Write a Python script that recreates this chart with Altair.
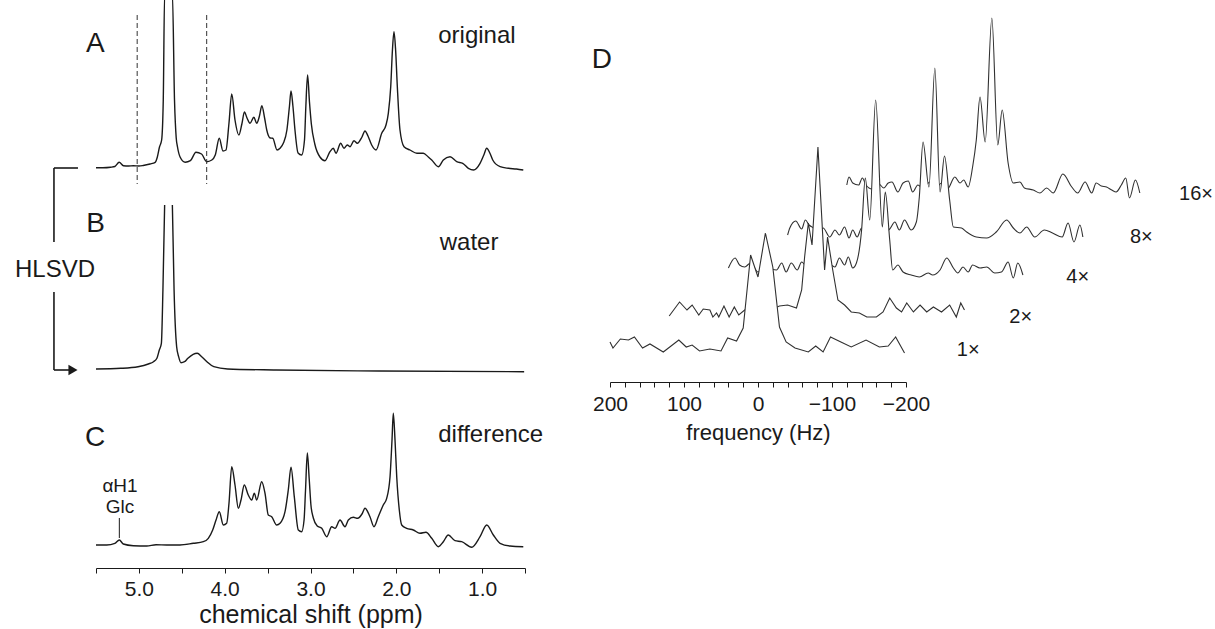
import altair as alt
import pandas as pd

FONT = "Liberation Sans"
INK = "#1a1a1a"
W, H = 1215, 629

# ---------------- Panel A : original spectrum (ppm, intensity) ----------------
A_PPM = [5.50, 5.42, 5.33, 5.28, 5.23, 5.18, 5.12, 5.065, 5.00, 4.95, 4.87, 4.81, 4.785, 4.76, 4.735, 4.716,
         4.70, 4.61, 4.585, 4.565, 4.55, 4.52, 4.46, 4.40, 4.335, 4.27, 4.21, 4.15, 4.11, 4.063, 4.02, 3.985,
         3.95, 3.918, 3.88, 3.835, 3.80, 3.77, 3.74, 3.705, 3.66, 3.627, 3.595, 3.567, 3.535, 3.51, 3.47, 3.44,
         3.39, 3.355, 3.317, 3.275, 3.245, 3.227, 3.205, 3.181, 3.145, 3.103, 3.07, 3.055, 3.034, 3.012, 2.99,
         2.95, 2.89, 2.831, 2.773, 2.734, 2.703, 2.648, 2.61, 2.571, 2.54, 2.493, 2.454, 2.40, 2.365, 2.33,
         2.287, 2.236, 2.17, 2.12, 2.093, 2.065, 2.045, 2.027, 2.008, 1.988, 1.957, 1.91, 1.84, 1.76, 1.685,
         1.627, 1.587, 1.51, 1.452, 1.374, 1.296, 1.226, 1.16, 1.10, 1.024, 0.98, 0.946, 0.91, 0.876, 0.79,
         0.693, 0.60, 0.52]
A_INT = [0.3, 0.3, 0.8, 1.5, 5.7, 2.3, 2.0, 2.3, 2.0, 2.5, 4.0, 5.7, 11.0, 21.0, 28.0, 68.0,
         175.0, 175.0, 68.0, 30.0, 21.0, 11.0, 5.7, 7.3, 15.7, 14.0, 6.3, 8.0, 13.0, 29.7, 17.0, 18.0,
         45.0, 74.0, 48.0, 33.0, 44.0, 56.0, 50.0, 44.7, 50.7, 44.7, 52.0, 62.3, 50.0, 38.0, 30.0, 29.7,
         18.0, 19.7, 24.7, 38.0, 62.0, 77.0, 62.0, 38.0, 15.0, 13.0, 28.0, 60.0, 93.0, 66.0, 44.0,
         24.0, 11.0, 7.3, 16.3, 19.7, 14.7, 24.7, 19.7, 23.0, 21.3, 27.3, 24.7, 31.0, 37.0, 32.0,
         23.0, 18.0, 34.7, 43.0, 54.7, 81.3, 118.0, 136.3, 118.0, 81.3, 38.0, 21.3, 18.0, 14.7, 14.7,
         11.0, 8.0, 1.3, 8.0, 11.3, 6.3, 4.7, -0.3, -2.0, 4.7, 13.0, 19.7, 15.0, 8.0, 1.3,
         -0.3, -1.0, -2.0]

# ---------------- Panel B : fitted water (HLSVD) ----------------
B_PPM = [5.50, 5.21, 5.01, 4.89, 4.83, 4.79, 4.762, 4.738, 4.72, 4.70, 4.61, 4.59, 4.56, 4.537, 4.51,
         4.468, 4.429, 4.368, 4.32, 4.268, 4.207, 4.127, 3.966, 3.40, 2.20, 0.51]
B_INT = [1.0, 1.7, 3.3, 6.0, 8.3, 11.7, 20.0, 26.7, 80.0, 165.0, 165.0, 80.0, 23.3, 13.3, 7.3,
         8.3, 11.7, 15.7, 16.7, 13.3, 8.3, 3.3, 1.0, 0.0, -1.0, -1.7]

# ---------------- Panel C : difference ----------------
C_PPM = [5.50, 5.375, 5.28, 5.228, 5.182, 5.065, 4.909, 4.80, 4.676, 4.521, 4.366, 4.249, 4.191, 4.14,
         4.101, 4.063, 4.016, 3.977, 3.95, 3.918, 3.88, 3.841, 3.81, 3.772, 3.725, 3.685, 3.655, 3.627,
         3.569, 3.53, 3.492, 3.452, 3.394, 3.355, 3.297, 3.259, 3.227, 3.189, 3.142, 3.103, 3.075, 3.058,
         3.037, 3.015, 2.995, 2.967, 2.921, 2.869, 2.811, 2.753, 2.714, 2.656, 2.598, 2.559, 2.501, 2.45,
         2.40, 2.365, 2.307, 2.26, 2.21, 2.152, 2.112, 2.073, 2.05, 2.035, 2.015, 1.995, 1.965, 1.937,
         1.879, 1.802, 1.724, 1.654, 1.587, 1.51, 1.452, 1.394, 1.316, 1.238, 1.121, 1.024, 0.946, 0.869,
         0.791, 0.674, 0.52]
C_INT = [0.0, 0.0, 1.7, 5.0, 1.0, -0.7, -1.0, 0.3, 0.0, 0.0, 1.7, 3.3, 6.7, 15.0,
         25.0, 33.3, 20.0, 21.7, 41.7, 78.3, 60.0, 36.7, 45.0, 60.0, 50.0, 45.0, 51.7, 45.0,
         63.3, 51.7, 30.0, 28.3, 20.0, 21.7, 33.3, 55.0, 77.7, 48.3, 15.0, 13.3, 25.0, 55.0,
         92.0, 66.0, 40.0, 27.0, 19.0, 16.7, 8.3, 18.3, 16.7, 25.0, 18.3, 25.0, 27.7, 26.7,
         31.0, 36.7, 28.3, 18.3, 28.3, 40.0, 46.7, 68.3, 105.0, 131.7, 105.0, 68.3, 35.0, 20.0,
         16.7, 15.0, 11.7, 12.7, 6.7, -1.7, 3.3, 10.0, 4.3, 3.3, -2.3, 8.3, 20.0, 10.0,
         1.7, -1.0, -1.7]

# ---------------- Panel D : averaged spectra (Hz, intensity) ----------------
D_SCANS = ["1×", "2×", "4×", "8×", "16×"]
D1_HZ = [200, 196, 186, 175, 167, 156, 146, 128, 107, 97, 89, 79, 65, 50, 41, 29, 20, 10, 0, -10,
         -20, -29, -38, -50, -68, -78, -88, -98, -112, -126, -146, -164, -176, -186, -198]
D1_INT = [5, -1, 8, 7, 10, -1, 3, -5, 7, 0, 2, -4, -2, -4, 9, 6, 19, 92, 70, 114,
          80, 20, 5, -1, -5, 1, -5, 10, 5, 0, 7, 0, 1, 10, -6]
D2_HZ = [200, 186, 176, 169, 160, 154, 145, 141, 136, 133, 126, 119, 112, 106, 98, 90, 80, 70, 60, 51,
         40, 28, 21, 17, 12, 7, -1, -10, -14, -21, -28, -37, -46, -57, -67, -80, -89, -98, -107, -114,
         -121, -130, -139, -148, -157, -168, -179, -188, -194, -199]
D2_INT = [-8, 6, -2, 3, -7, -1, -2, -9, -5, -9, 2, -9, 1, -7, -2, 1, -3, 2, -1, 2,
          3, 0, 18, 51, 85, 63, 161, 38, 71, 38, 8, 3, -4, -5, -9, -9, -4, 10, 0, -4,
          5, -4, 3, -4, 1, -4, 3, -9, 5, -2]
D4_HZ = [200, 191, 185, 178, 170, 160, 150, 141, 135, 128, 122, 115, 107, 101, 92, 82, 72, 62, 56, 50,
         43, 38, 32, 27, 20, 15, 9, 1, -8, -12, -18, -22, -29, -36, -47, -58, -70, -76, -86, -95,
         -104, -110, -117, -124, -130, -140, -149, -160, -169, -178, -185, -191, -198]
D4_INT = [1, 11, 4, 2, 6, -3, 4, 0, -1, 6, -3, 6, -1, 7, 0, 5, -2, 4, 2, 11,
          4, 12, 1, 6, 39, 91, 49, 169, 42, 77, 29, -1, 4, -3, -6, -8, -4, -6, -1, 11,
          1, -4, 2, -3, 4, 1, 2, -4, -3, 7, -9, 6, -6]
D8_HZ = [200, 197, 189, 181, 176, 171, 165, 158, 152, 143, 136, 130, 123, 117, 112, 106, 100, 90, 80, 70,
         62, 55, 49, 42, 33, 26, 22, 17, 9, 1, -6, -12, -19, -24, -35, -42, -55, -69, -82, -96,
         -105, -114, -123, -134, -147, -158, -171, -179, -187, -195, -199]
D8_INT = [-5, 2, 9, 1, 10, 5, 2, -3, 2, -7, 0, -5, 3, -8, 0, -7, 2, -4, 3, -2,
          1, 8, 0, 10, 0, 8, 33, 88, 43, 162, 38, 74, 30, 3, 2, -2, -7, -8, -2, 10,
          2, -3, 3, -7, 0, -3, -7, 7, -12, 5, -7]
D16_HZ = [200, 197, 192, 184, 179, 174, 166, 158, 150, 144, 139, 131, 124, 117, 111, 104, 96, 88, 80, 72,
          64, 54, 47, 42, 36, 30, 25, 20, 13, 4, -4, -10, -18, -25, -34, -40, -52, -61, -70, -79,
          -92, -104, -112, -122, -131, -137, -144, -151, -158, -164, -171, -177, -182, -190, -196]
D16_INT = [6, 14, 8, 6, 13, 6, 2, 8, 3, 8, 9, -1, 8, 10, -1, 6, 2, 9, 3, 8,
           2, 14, 8, 11, 4, 24, 51, 94, 49, 173, 46, 81, 28, 8, 9, 3, 1, -2, 3, -2,
           17, 4, -2, 9, -2, 8, 5, 4, 1, -1, 6, 13, -7, 11, -2]
D_LABEL_HZ = [-284, -275, -272, -278, -272]
D_LABEL_INT = [-9, -15, -14, -13, -9]

# ---------------- axes ticks ----------------
PPM_TICKS = [5.5, 5.0, 4.5, 4.0, 3.5, 3.0, 2.5, 2.0, 1.5, 1.0, 0.5]
HZ_TICKS = list(range(200, -201, -20))

# ---------------- annotations ----------------
DASH_PPM = [5.02, 4.21]
DASH_TOP, DASH_BOTTOM = 153, -16
BR_X1 = [5.99, 5.99, 5.99, 5.99]
BR_X2 = [5.71, 5.99, 5.99, 5.80]
BR_Y1 = [202, 202, 78, 0]
BR_Y2 = [202, 128, 0, 0]

# layout constants (scale domains -> pixel ranges)
X_PPM = ([5.5, 0.5], [96, 525])
Y_A = ([0, 168], [168, 0])
Y_B = ([0, 165], [370, 205])
Y_C = ([0, 132], [545, 413])
X_D = ([200, -200], [610, 906])
Y_D = ([0, 100], [347, 247])
D_SHIFT_HZ = 80
D_STEP = 39
D_FILL_DEPTH = 15


def sc(domain, rng):
    return alt.Scale(domain=domain, range=rng, nice=False, zero=False)


def enc(xs, ys, xf="x", yf="y", xaxis=None):
    return dict(x=alt.X(f"{xf}:Q", scale=sc(*xs), axis=xaxis),
                y=alt.Y(f"{yf}:Q", scale=sc(*ys), axis=None))


def texts(labels, xs, ys, sizes, xsc, ysc, align):
    df = pd.DataFrame({"x": xs, "y": ys, "t": labels, "fs": sizes})
    return alt.Chart(df).mark_text(font=FONT, color=INK, align=align, baseline="alphabetic").encode(
        **enc(xsc, ysc), text="t:N", size=alt.Size("fs:Q", scale=None, legend=None))


layers = []

# Panel A
dfA = pd.DataFrame({"x": A_PPM, "y": A_INT})
layers.append(alt.Chart(dfA).mark_line(color=INK, strokeWidth=1.4, interpolate="monotone", clip=True)
              .encode(**enc(X_PPM, Y_A)))
dfDash = pd.DataFrame({"x": DASH_PPM, "y": [DASH_TOP] * len(DASH_PPM), "y2": [DASH_BOTTOM] * len(DASH_PPM)})
layers.append(alt.Chart(dfDash).mark_rule(color="#333333", strokeWidth=1, strokeDash=[5, 3])
              .encode(**enc(X_PPM, Y_A), y2="y2:Q"))
layers.append(texts(["A", "original"], [5.617, 1.511], [116.3, 124.7], [28, 24], X_PPM, Y_A, "left"))

# Panel B
dfB = pd.DataFrame({"x": B_PPM, "y": B_INT})
layers.append(alt.Chart(dfB).transform_calculate(seg="datum.x > 4.655 ? 0 : 1")
              .mark_line(color=INK, strokeWidth=1.4, interpolate="monotone")
              .encode(**enc(X_PPM, Y_B), detail="seg:N"))
dfBr = pd.DataFrame({"x": BR_X1, "x2": BR_X2, "y": BR_Y1, "y2": BR_Y2})
layers.append(alt.Chart(dfBr).mark_rule(color=INK, strokeWidth=1.6)
              .encode(**enc(X_PPM, Y_B), x2="x2:Q", y2="y2:Q"))
dfArrow = pd.DataFrame({"x": [5.768], "y": [0]})
layers.append(alt.Chart(dfArrow).mark_point(shape="triangle-right", filled=True, size=110, color=INK, opacity=1)
              .encode(**enc(X_PPM, Y_B)))
layers.append(texts(["B", "water"], [5.613, 1.494], [138.3, 120.0], [28, 24], X_PPM, Y_B, "left"))
layers.append(texts(["HLSVD"], [5.978], [92.7], [24], X_PPM, Y_B, "center"))

# Panel C (with ppm axis)
ppm_axis = alt.Axis(values=PPM_TICKS, orient="bottom", offset=-61, grid=False,
                    labelExpr="datum.value % 1 === 0 ? format(datum.value, '.1f') : ''",
                    tickSize=5, tickColor=INK, tickWidth=1, domainColor=INK, domainWidth=1,
                    labelFont=FONT, labelFontSize=21, labelColor=INK, labelPadding=5,
                    labelFlush=False, labelOverlap=False,
                    title="chemical shift (ppm)", titleFont=FONT, titleFontSize=25,
                    titleFontWeight="normal", titleColor=INK, titlePadding=3)
dfC = pd.DataFrame({"x": C_PPM, "y": C_INT})
layers.append(alt.Chart(dfC).mark_line(color=INK, strokeWidth=1.4, interpolate="monotone")
              .encode(**enc(X_PPM, Y_C, xaxis=ppm_axis)))
dfGlc = pd.DataFrame({"x": [5.228], "y": [27], "y2": [7]})
layers.append(alt.Chart(dfGlc).mark_rule(color=INK, strokeWidth=1).encode(**enc(X_PPM, Y_C), y2="y2:Q"))
layers.append(texts(["C", "difference"], [5.628, 1.511], [99.3, 103.3], [28, 24], X_PPM, Y_C, "left"))
layers.append(texts(["αH1", "Glc"], [5.22, 5.22], [53.3, 31.7], [19, 19], X_PPM, Y_C, "center"))

# Panel D : stacked spectra with hidden-line removal (back to front)
rows = []
for k, (hz, it) in enumerate([(D1_HZ, D1_INT), (D2_HZ, D2_INT), (D4_HZ, D4_INT),
                              (D8_HZ, D8_INT), (D16_HZ, D16_INT)]):
    rows += [{"hz": h, "i": v, "k": k} for h, v in zip(hz, it)]
dfD = pd.DataFrame(rows)

hz_axis = alt.Axis(values=HZ_TICKS, orient="bottom", offset=-247, grid=False,
                   labelExpr="datum.value % 100 === 0 ? format(datum.value, 'd') : ''",
                   tickSize=5, tickColor=INK, tickWidth=1, domainColor=INK, domainWidth=1,
                   labelFont=FONT, labelFontSize=21, labelColor=INK, labelPadding=6,
                   labelFlush=False, labelOverlap=False,
                   title="frequency (Hz)", titleFont=FONT, titleFontSize=22,
                   titleFontWeight="normal", titleColor=INK, titlePadding=8)

for k in [4, 3, 2, 1, 0]:
    interp = "linear" if k < 2 else "monotone"
    base = alt.Chart(dfD).transform_filter(f"datum.k == {k}").transform_calculate(
        xp=f"datum.hz - {D_SHIFT_HZ} * {k}",
        yp=f"datum.i + {D_STEP} * {k}",
        yb=f"{D_STEP} * {k} - {D_FILL_DEPTH}")
    layers.append(base.mark_area(color="white", interpolate=interp)
                  .encode(**enc(X_D, Y_D, "xp", "yp"), y2="yb:Q"))
    layers.append(base.mark_line(color="#303030", strokeWidth=1.1, interpolate=interp)
                  .encode(**enc(X_D, Y_D, "xp", "yp", xaxis=hz_axis if k == 0 else None)))

dfDL = pd.DataFrame({"t": D_SCANS, "hz": D_LABEL_HZ, "i": D_LABEL_INT, "k": list(range(len(D_SCANS)))})
layers.append(alt.Chart(dfDL).transform_calculate(
    xp=f"datum.hz - {D_SHIFT_HZ} * datum.k", yp=f"datum.i + {D_STEP} * datum.k")
    .mark_text(font=FONT, color=INK, align="center", baseline="alphabetic", fontSize=20)
    .encode(**enc(X_D, Y_D, "xp", "yp"), text="t:N"))
layers.append(texts(["D"], [224.7], [278.7], [28], X_D, Y_D, "left"))

chart = (alt.layer(*layers)
         .resolve_scale(x="independent", y="independent")
         .properties(width=W, height=H, padding=0, background="white",
                     autosize=alt.AutoSizeParams(type="none"))
         .configure_view(stroke=None))

chart.save("out.html", embed_options={"renderer": "svg", "actions": False})
